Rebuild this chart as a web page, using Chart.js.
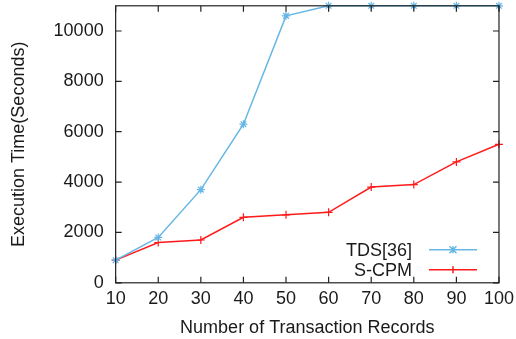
<!DOCTYPE html>
<html><head><meta charset="utf-8">
<script src="https://cdn.jsdelivr.net/npm/chart.js@4"></script>
<style>html,body{margin:0;padding:0;background:#fff;overflow:hidden}#wrap{position:relative;width:516px;height:339px;overflow:hidden}#c{position:absolute;left:0;top:-17px}</style>
</head><body><div id="wrap"><canvas id="c" width="519" height="356"></canvas></div>
<script>
const categories = ['10','20','30','40','50','60','70','80','90','100'];
const tdsValues = [900, 1800, 3700, 6300, 10600, 11000, 11000, 11000, 11000, 11000];
const scpmValues = [900, 1600, 1700, 2600, 2700, 2800, 3800, 3900, 4800, 5500];
const yTicks = [0, 2000, 4000, 6000, 8000, 10000];
const seriesNames = ['TDS[36]', 'S-CPM'];
const FONT = 'Liberation Sans, Arial, sans-serif';
const TXT = '#1a1a1a';

const frameTicks = {
  id: 'frameTicks',
  afterDraw(chart) {
    const ctx = chart.ctx, a = chart.chartArea;
    const xs = chart.scales.x, ys = chart.scales.y;
    ctx.save();
    ctx.strokeStyle = '#222';
    ctx.lineWidth = 1.2;
    ctx.strokeRect(a.left, a.top, a.right - a.left, a.bottom - a.top);
    const L = 6;
    ctx.beginPath();
    xs.ticks.forEach((t, i) => {
      const x = xs.getPixelForTick(i);
      ctx.moveTo(x, a.bottom); ctx.lineTo(x, a.bottom - L);
      ctx.moveTo(x, a.top); ctx.lineTo(x, a.top + L);
    });
    ys.ticks.forEach(t => {
      const y = ys.getPixelForValue(t.value);
      ctx.moveTo(a.left, y); ctx.lineTo(a.left + L, y);
      ctx.moveTo(a.right, y); ctx.lineTo(a.right - L, y);
    });
    ctx.stroke();
    ctx.restore();
  }
};

const innerLegend = {
  id: 'innerLegend',
  afterDraw(chart) {
    const ctx = chart.ctx, a = chart.chartArea;
    ctx.save();
    ctx.font = '18px ' + FONT;
    ctx.textAlign = 'right';
    ctx.textBaseline = 'middle';
    chart.data.datasets.forEach((ds, i) => {
      const y = a.bottom - 33 + i * 20;
      ctx.fillStyle = TXT;
      ctx.fillText(ds.label, a.right - 87, y + 1);
      ctx.strokeStyle = ds.borderColor;
      ctx.lineWidth = 1.5;
      ctx.beginPath();
      ctx.moveTo(a.right - 70, y); ctx.lineTo(a.right - 22, y);
      ctx.stroke();
      const cx = a.right - 46, r = 3.5;
      ctx.beginPath();
      if (ds.pointStyle === 'star') {
        ctx.moveTo(cx - r, y - r); ctx.lineTo(cx + r, y + r);
        ctx.moveTo(cx + r, y - r); ctx.lineTo(cx - r, y + r);
        ctx.moveTo(cx, y - r); ctx.lineTo(cx, y + r);
      } else {
        ctx.moveTo(cx, y - r); ctx.lineTo(cx, y + r);
      }
      ctx.stroke();
    });
    ctx.restore();
  }
};

new Chart(document.getElementById('c'), {
  type: 'line',
  data: {
    labels: categories,
    datasets: [
      { label: seriesNames[0], data: tdsValues, borderColor: '#66b6e6', backgroundColor: '#66b6e6',
        borderWidth: 1.5, pointStyle: 'star', pointRadius: 4, pointBorderWidth: 1.2, tension: 0, clip: false },
      { label: seriesNames[1], data: scpmValues, borderColor: '#ff1a1a', backgroundColor: '#ff1a1a',
        borderWidth: 1.5, pointStyle: 'cross', pointRadius: 4, pointBorderWidth: 1.2, tension: 0, clip: false }
    ]
  },
  options: {
    responsive: false,
    animation: false,
    layout: { padding: { left: 8, top: 0, right: 0, bottom: 0 } },
    plugins: { legend: { display: false }, tooltip: { enabled: false } },
    scales: {
      x: {
        offset: false,
        grid: { display: false, drawTicks: false },
        border: { display: false },
        ticks: { color: TXT, font: { family: FONT, size: 18 }, padding: 5, maxRotation: 0, autoSkip: false },
        title: { display: true, text: 'Number of Transaction Records', color: TXT, font: { family: FONT, size: 18 }, padding: { top: 3, bottom: 0 } }
      },
      y: {
        min: 0, max: 11000,
        afterBuildTicks(scale) { scale.ticks = yTicks.map(v => ({ value: v })); },
        grid: { display: false, drawTicks: false },
        border: { display: false },
        ticks: { color: TXT, font: { family: FONT, size: 18 }, padding: 12, callback: v => String(v) },
        title: { display: true, text: 'Execution Time(Seconds)', color: TXT, font: { family: FONT, size: 18 }, padding: { top: 0, bottom: 12 } }
      }
    }
  },
  plugins: [frameTicks, innerLegend]
});
</script></body></html>
